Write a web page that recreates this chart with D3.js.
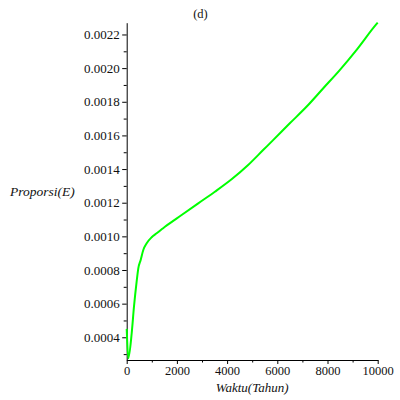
<!DOCTYPE html>
<html>
<head>
<meta charset="utf-8">
<script src="https://cdn.jsdelivr.net/npm/d3@7"></script>
<style>
  html, body { margin: 0; padding: 0; background: #fff; }
  svg { display: block; }
  text { font-family: "Liberation Serif", "Times New Roman", Times, serif; fill: #111; }
</style>
</head>
<body>
<svg id="chart" width="400" height="400"></svg>
<script>
// Data
const timeYears = [0, 64, 199, 290, 398, 462, 557, 661, 796, 995, 1194, 1393, 1524, 2188, 2849, 3513, 4178, 4838, 5435, 5833, 6498, 7162, 7823, 8488, 9152, 9948, 10000];
const proportionE = [0.00045, 0.000276, 0.000424, 0.000582, 0.000734, 0.000810, 0.000860, 0.000919, 0.000959, 0.000995, 0.001018, 0.001042, 0.001057, 0.001127, 0.001196, 0.001265, 0.001339, 0.001424, 0.001513, 0.001572, 0.001672, 0.00177, 0.001879, 0.001988, 0.002107, 0.002261, 0.00227];
const xTickValues = [0, 2000, 4000, 6000, 8000, 10000];
const xMinorTickValues = [1000, 3000, 5000, 7000, 9000];
const yTickValues = [0.0004, 0.0006, 0.0008, 0.0010, 0.0012, 0.0014, 0.0016, 0.0018, 0.0020, 0.0022];
const yMinorTickValues = [0.0003, 0.0005, 0.0007, 0.0009, 0.0011, 0.0013, 0.0015, 0.0017, 0.0019, 0.0021];
const titleText = "(d)";
const xLabelText = "Waktu(Tahun)";
const yLabelText = "Proporsi(E)";

const svg = d3.select("#chart");
const mLeft = 126.7, mRight = 377.7, mTop = 22.7, mBottom = 360;

const x = d3.scaleLinear().domain([0, 10000]).range([mLeft, mRight]);
const y = d3.scaleLinear().domain([0.000265, 0.00227]).range([mBottom, mTop]);

const serif = '"Liberation Serif", "Times New Roman", Times, serif';

// minor ticks
svg.append("g")
  .attr("transform", `translate(0,${mBottom})`)
  .call(d3.axisBottom(x).tickValues(xMinorTickValues).tickSize(2.5).tickFormat(""))
  .call(g => g.select(".domain").remove())
  .selectAll("line").attr("stroke", "#000");
svg.append("g")
  .attr("transform", `translate(${mLeft},0)`)
  .call(d3.axisLeft(y).tickValues(yMinorTickValues).tickSize(3).tickFormat(""))
  .call(g => g.select(".domain").remove())
  .selectAll("line").attr("stroke", "#000");

// major axes
const xAxis = svg.append("g")
  .attr("transform", `translate(0,${mBottom})`)
  .call(d3.axisBottom(x).tickValues(xTickValues).tickSize(4).tickPadding(2).tickSizeOuter(0).tickFormat(d3.format("d")))
  .attr("font-family", serif).attr("font-size", 12.5);
xAxis.select(".domain").attr("stroke", "#000");
xAxis.selectAll("line").attr("stroke", "#000");
xAxis.selectAll("text").attr("fill", "#111").style("font-family", serif);

const yAxis = svg.append("g")
  .attr("transform", `translate(${mLeft},0)`)
  .call(d3.axisLeft(y).tickValues(yTickValues).tickSize(4.5).tickPadding(2.5).tickSizeOuter(0).tickFormat(d => d.toFixed(4)))
  .attr("font-family", serif).attr("font-size", 13);
yAxis.select(".domain").attr("stroke", "#000");
yAxis.selectAll("line").attr("stroke", "#000");
yAxis.selectAll("text").attr("fill", "#111").style("font-family", serif);

// curve
const pts = timeYears.map((t, i) => [t, proportionE[i]]);
svg.append("path")
  .datum(pts)
  .attr("fill", "none")
  .attr("stroke", "#00ff00")
  .attr("stroke-width", 2)
  .attr("d", d3.line().x(d => x(d[0])).y(d => y(d[1])).curve(d3.curveMonotoneX));

// title
svg.append("text")
  .attr("x", 200.5).attr("y", 17.5)
  .attr("text-anchor", "middle")
  .style("font-size", "12.5px")
  .text(titleText);

// axis labels
svg.append("text")
  .attr("x", (mLeft + mRight) / 2).attr("y", 391.5)
  .attr("text-anchor", "middle")
  .style("font-size", "13px").style("font-style", "italic")
  .text(xLabelText);
svg.append("text")
  .attr("x", 10).attr("y", 195.5)
  .attr("text-anchor", "start")
  .style("font-size", "13.5px").style("font-style", "italic")
  .text(yLabelText);
</script>
</body>
</html>
